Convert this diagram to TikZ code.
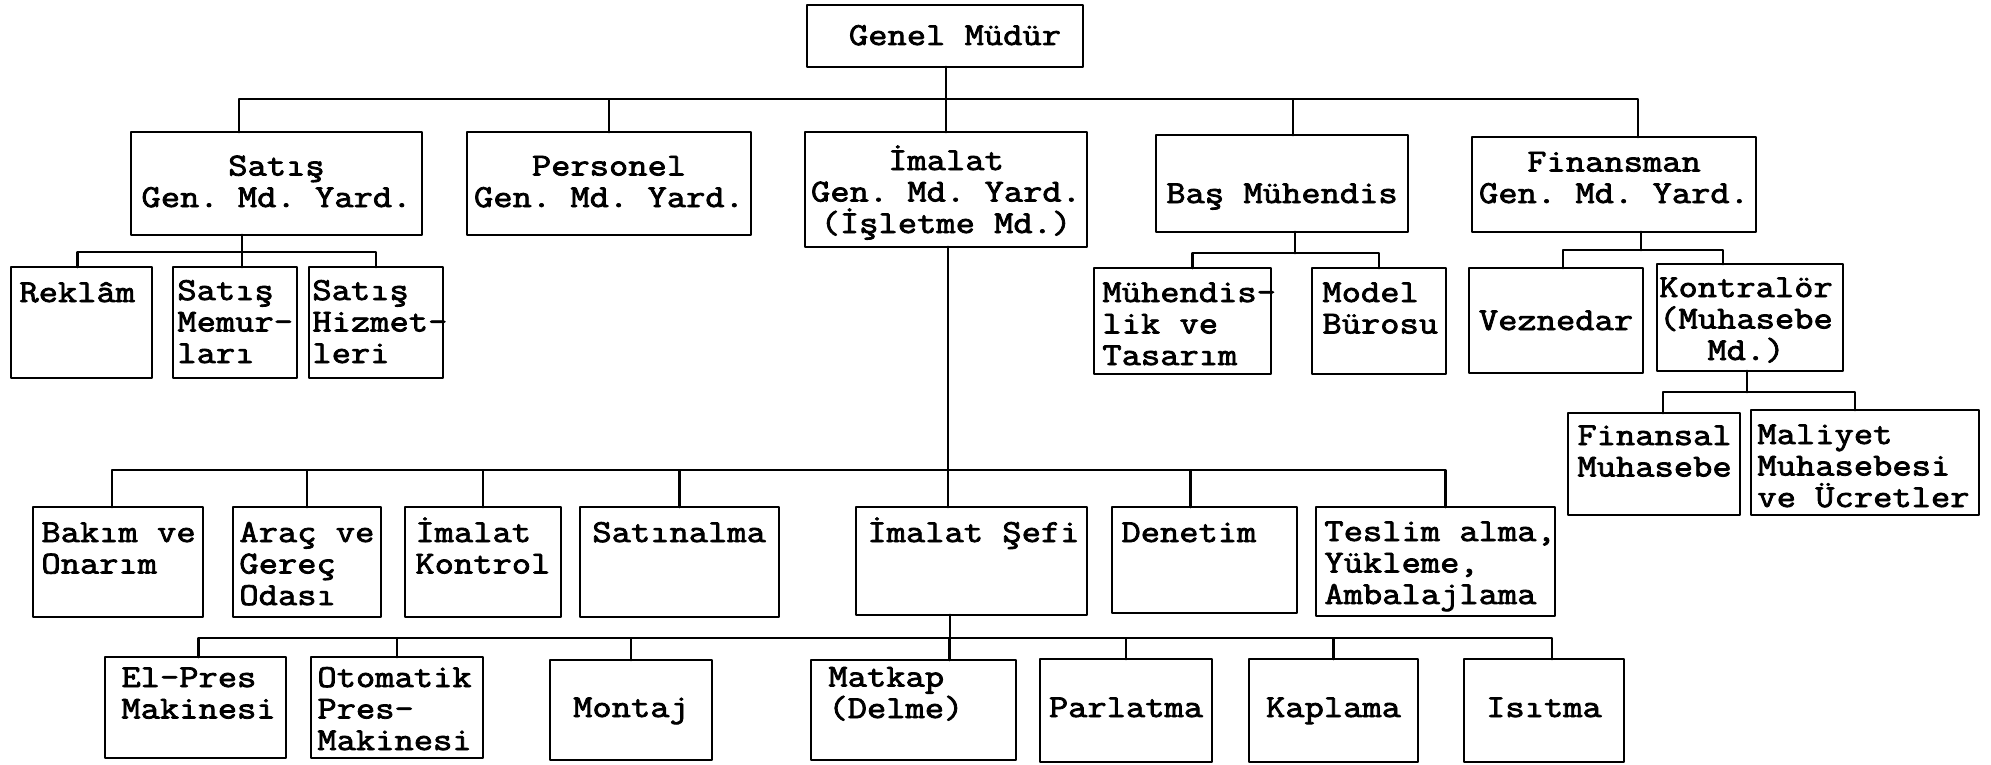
\documentclass[tikz,border=0pt]{standalone}
\usepackage{fontspec}
\newfontfamily\orgfam{Latin Modern Mono}[FakeStretch=1.17,FakeBold=2.5]
\usetikzlibrary{fit}
\newcommand{\orgfont}{\orgfam\fontsize{16pt}{15.75pt}\selectfont\frenchspacing}
\tikzset{
  every picture/.style={line join=round, line cap=round, x=0.5pt, y=-0.5pt},
  box/.style={draw, line width=1.4pt, inner sep=0pt, outer sep=0pt},
  txt/.style={inner sep=0pt, font=\orgfont, align=left, anchor=base west},
  ctxt/.style={inner sep=0pt, font=\orgfont, align=center, anchor=base},
  link/.style={line width=1.4pt},
}

\begin{document}
\begin{tikzpicture}
\useasboundingbox (0,0) rectangle (1991,765);
\node[box, fit={(807,5) (1083,67)}] (gm) {};
\node[box, fit={(131,132) (422,235)}] (sat) {};
\node[box, fit={(467,132) (751,235)}] (per) {};
\node[box, fit={(805,132) (1087,247)}] (ima) {};
\node[box, fit={(1156,135) (1408,232)}] (bas) {};
\node[box, fit={(1472,137) (1756,232)}] (fin) {};
\node[box, fit={(11,267) (152,378)}] (rek) {};
\node[box, fit={(173,267) (297,378)}] (smem) {};
\node[box, fit={(309,267) (443,378)}] (shiz) {};
\node[box, fit={(1094,268) (1271,374)}] (muh) {};
\node[box, fit={(1312,268) (1446,374)}] (mod) {};
\node[box, fit={(1469,268) (1643,373)}] (vez) {};
\node[box, fit={(1657,264) (1843,371)}] (kon) {};
\node[box, fit={(1568,413) (1740,515)}] (fmu) {};
\node[box, fit={(1751,410) (1979,515)}] (mal) {};
\node[box, fit={(33,507) (203,617)}] (bak) {};
\node[box, fit={(233,507) (381,617)}] (arac) {};
\node[box, fit={(405,507) (561,617)}] (ikon) {};
\node[box, fit={(580,507) (779,617)}] (stn) {};
\node[box, fit={(856,507) (1087,615)}] (sef) {};
\node[box, fit={(1112,507) (1297,613)}] (den) {};
\node[box, fit={(1316,507) (1555,616)}] (tes) {};
\node[box, fit={(105,657) (286,758)}] (elp) {};
\node[box, fit={(311,657) (483,758)}] (oto) {};
\node[box, fit={(550,660) (712,760)}] (mon) {};
\node[box, fit={(811,660) (1016,760)}] (mat) {};
\node[box, fit={(1040,659) (1212,762)}] (par) {};
\node[box, fit={(1249,659) (1418,762)}] (kap) {};
\node[box, fit={(1464,659) (1624,762)}] (isi) {};
\node[ctxt] (gm-t) at ([shift={(10,40)}]gm.north) {Genel Müdür};
\node[ctxt] (sat-t) at ([shift={(0,75)}]sat.north) {Satış\\Gen. Md. Yard.};
\node[ctxt] (per-t) at ([shift={(0,75)}]per.north) {Personel\\Gen. Md. Yard.};
\node[ctxt] (ima-t) at ([shift={(0,101)}]ima.north) {İmalat\\Gen. Md. Yard.\\(İşletme Md.)};
\node[ctxt] (bas-t) at ([shift={(0,68)}]bas.north) {Baş Mühendis};
\node[ctxt] (fin-t) at ([shift={(0,66)}]fin.north) {Finansman\\Gen. Md. Yard.};
\node[ctxt] (vez-t) at ([shift={(0,62)}]vez.north) {Veznedar};
\node[ctxt] (kon-t) at ([shift={(-4,96)}]kon.north) {Kontralör\\(Muhasebe\\Md.)};
\node[ctxt] (mon-t) at ([shift={(0,57)}]mon.north) {Montaj};
\node[ctxt] (par-t) at ([shift={(0,58)}]par.north) {Parlatma};
\node[ctxt] (kap-t) at ([shift={(0,58)}]kap.north) {Kaplama};
\node[ctxt] (isi-t) at ([shift={(0,58)}]isi.north) {Isıtma};
\node[txt] (rek-t) at ([shift={(8,35)}]rek.north west) {Reklâm};
\node[txt] (smem-t) at ([shift={(4,96)}]smem.north west) {Satış\\Memur-\\ları};
\node[txt] (shiz-t) at ([shift={(3,96)}]shiz.north west) {Satış\\Hizmet-\\leri};
\node[txt] (muh-t) at ([shift={(8,97)}]muh.north west) {Mühendis-\\lik ve\\Tasarım};
\node[txt] (mod-t) at ([shift={(10,65.5)}]mod.north west) {Model\\Bürosu};
\node[txt] (fmu-t) at ([shift={(9,63.5)}]fmu.north west) {Finansal\\Muhasebe};
\node[txt] (mal-t) at ([shift={(6,97)}]mal.north west) {Maliyet\\Muhasebesi\\ve Ücretler};
\node[txt] (bak-t) at ([shift={(8,66.5)}]bak.north west) {Bakım ve\\Onarım};
\node[txt] (arac-t) at ([shift={(6,98)}]arac.north west) {Araç ve\\Gereç\\Odası};
\node[txt] (ikon-t) at ([shift={(10,66.5)}]ikon.north west) {İmalat\\Kontrol};
\node[txt] (stn-t) at ([shift={(12,35)}]stn.north west) {Satınalma};
\node[txt] (sef-t) at ([shift={(11,35)}]sef.north west) {İmalat Şefi};
\node[txt] (den-t) at ([shift={(9,35)}]den.north west) {Denetim};
\node[txt] (tes-t) at ([shift={(8,97)}]tes.north west) {Teslim alma,\\Yükleme,\\Ambalajlama};
\node[txt] (elp-t) at ([shift={(16,61.5)}]elp.north west) {El-Pres\\Makinesi};
\node[txt] (oto-t) at ([shift={(6,93)}]oto.north west) {Otomatik\\Pres-\\Makinesi};
\node[txt] (mat-t) at ([shift={(17,58)}]mat.north west) {Matkap\\(Delme)};
\coordinate (j0) at (946,99);
\coordinate (j1) at (242,252);
\coordinate (j2) at (1295,253);
\coordinate (j3) at (1641,250);
\coordinate (j4) at (1747,392);
\coordinate (j5) at (948,470);
\coordinate (j6) at (950,638);
\draw[link] (j0 |- gm.south) -- (j0);
\draw[link] (j0) -| ([xshift=-18.75pt]sat.north);
\draw[link] (j0) -| (per.north);
\draw[link] (j0) -| (ima.north);
\draw[link] (j0) -| ([xshift=5.5pt]bas.north);
\draw[link] (j0) -| ([xshift=12pt]fin.north);
\draw[link] (j1 |- sat.south) -- (j1);
\draw[link] (j1) -| ([xshift=-2pt]rek.north);
\draw[link] (j1) -| ([xshift=3.5pt]smem.north);
\draw[link] (j1) -| (shiz.north);
\draw[link] (j2 |- bas.south) -- (j2);
\draw[link] (j2) -| ([xshift=5pt]muh.north);
\draw[link] (j2) -| (mod.north);
\draw[link] (j3 |- fin.south) -- (j3);
\draw[link] (j3) -| ([xshift=3.5pt]vez.north);
\draw[link] (j3) -| ([xshift=-13.5pt]kon.north);
\draw[link] (j4 |- kon.south) -- (j4);
\draw[link] (j4) -| ([xshift=4.5pt]fmu.north);
\draw[link] (j4) -| ([xshift=-5pt]mal.north);
\draw[link] (j5 |- ima.south) -- (j5);
\draw[link] (j5) -| ([xshift=-3pt]bak.north);
\draw[link] (j5) -| (arac.north);
\draw[link] (j5) -| (ikon.north);
\draw[link] (j5) -| (stn.north);
\draw[link] (j5) -| ([xshift=-11.75pt]sef.north);
\draw[link] (j5) -| ([xshift=-7pt]den.north);
\draw[link] (j5) -| ([xshift=5pt]tes.north);
\draw[link] (j6 |- sef.south) -- (j6);
\draw[link] (j6) -| ([xshift=1.5pt]elp.north);
\draw[link] (j6) -| (oto.north);
\draw[link] (j6) -| (mon.north);
\draw[link] (j6) -| ([xshift=18pt]mat.north);
\draw[link] (j6) -| (par.north);
\draw[link] (j6) -| (kap.north);
\draw[link] (j6) -| ([xshift=4pt]isi.north);
\end{tikzpicture}
\end{document}
